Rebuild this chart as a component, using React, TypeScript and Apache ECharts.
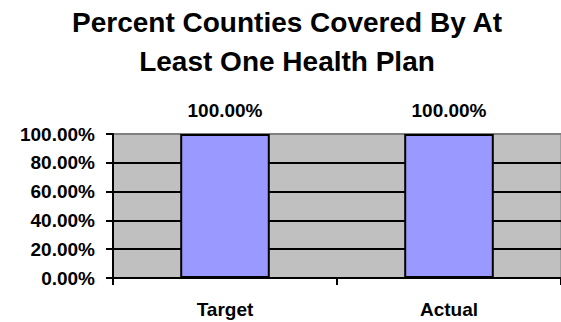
import React, { useEffect, useRef } from "react";
import * as echarts from "echarts";

const categories = ["Target", "Actual"];
const values = [100, 100];
const titleLines = ["Percent Counties Covered By At", "Least One Health Plan"];

const FONT = "'Liberation Sans', Arial, Helvetica, sans-serif";

export default function App() {
  const ref = useRef<HTMLDivElement>(null);
  useEffect(() => {
    if (!ref.current) return;
    const chart = echarts.init(ref.current, null, { renderer: "svg" });
    chart.setOption({
      animation: false,
      title: {
        text: titleLines.join("\n"),
        left: 287,
        textAlign: "center",
        top: 3,
        padding: 0,
        textStyle: {
          fontFamily: FONT,
          fontWeight: "bold",
          fontSize: 28,
          lineHeight: 39,
          color: "#000",
        },
      },
      grid: {
        left: 113,
        right: 0,
        top: 134,
        bottom: 44,
        show: true,
        backgroundColor: "#c0c0c0",
        borderColor: "#808080",
        borderWidth: 1,
      },
      xAxis: {
        type: "category",
        data: categories,
        axisLine: { lineStyle: { color: "#000", width: 2 } },
        axisTick: { show: true, length: 7, lineStyle: { color: "#000", width: 2 } },
        axisLabel: {
          margin: 22,
          fontFamily: FONT,
          fontWeight: "bold",
          fontSize: 19,
          color: "#000",
        },
      },
      yAxis: {
        type: "value",
        min: 0,
        max: 100,
        interval: 20,
        axisLine: { show: true, lineStyle: { color: "#000", width: 2 } },
        axisTick: { show: true, length: 7, lineStyle: { color: "#000", width: 2 } },
        axisLabel: {
          margin: 18,
          fontFamily: FONT,
          fontWeight: "bold",
          fontSize: 19,
          color: "#000",
          formatter: (v: number) => v.toFixed(2) + "%",
        },
        splitLine: {
          show: true,
          lineStyle: {
            color: ["#000", "#000", "#000", "#000", "#000", "#808080"],
            width: 2,
          },
        },
      },
      series: [
        {
          type: "bar",
          data: values,
          barWidth: "40%",
          itemStyle: { color: "#9999ff", borderColor: "#000", borderWidth: 2 },
          label: {
            show: true,
            position: "top",
            distance: 14,
            fontFamily: FONT,
            fontWeight: "bold",
            fontSize: 19,
            color: "#000",
            formatter: (p: any) => Number(p.value).toFixed(2) + "%",
          },
        },
      ],
    });
    return () => chart.dispose();
  }, []);
  return (
    <div
      ref={ref}
      style={{ position: "fixed", left: 0, top: 0, width: 561, height: 322, background: "#fff" }}
    />
  );
}
